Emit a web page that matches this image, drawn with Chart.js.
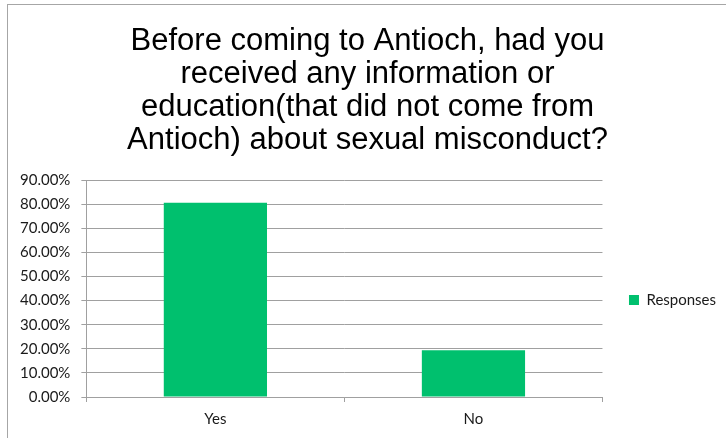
<!DOCTYPE html>
<html>
<head>
<meta charset="utf-8">
<script src="https://cdn.jsdelivr.net/npm/chart.js@4"></script>
<style>
  html, body { margin: 0; padding: 0; background: #fff; overflow: hidden; }
  body { width: 726px; height: 438px; position: relative; }
  #frame { position: absolute; left: 7px; top: 4px; width: 740px; height: 460px;
           border: 1px solid #a6a6a6; box-sizing: border-box; }
  #wrap { position: absolute; left: 9px; top: 5px; width: 717px; height: 433px; }
</style>
</head>
<body>
<div id="frame"></div>
<div id="wrap"><canvas id="c"></canvas></div>
<script>
const titleLines = ["Before coming to Antioch, had you", "received any information or", "education(that did not come from", "Antioch) about sexual misconduct?"];
const categories = ["Yes", "No"];
const seriesName = "Responses";
const responses = [80.6, 19.4];
const yMin = 0, yMax = 90, yStep = 10;

const gridColor = '#a0a0a0';
const barColor = '#00c06e';
const smallFont = 'Lato, "Open Sans", sans-serif';

new Chart(document.getElementById('c'), {
  type: 'bar',
  data: {
    labels: categories,
    datasets: [{
      label: seriesName,
      data: responses,
      backgroundColor: barColor,
      borderWidth: 0,
      categoryPercentage: 1,
      barPercentage: 0.4
    }]
  },
  options: {
    responsive: true,
    maintainAspectRatio: false,
    animation: false,
    devicePixelRatio: 1,
    layout: { padding: { left: 0, right: 0, top: 0, bottom: 2 } },
    plugins: {
      title: {
        display: true,
        text: titleLines,
        color: '#000',
        font: { family: '"Liberation Sans", Arial, sans-serif', size: 31, weight: 'normal', lineHeight: 1.065 },
        padding: { top: 20, bottom: 23 }
      },
      legend: {
        display: true,
        position: 'right',
        align: 'start',
        fullSize: false,
        title: { display: true, text: ' ', padding: { top: 62, bottom: 0 }, font: { size: 20, lineHeight: 1.2 } },
        labels: {
          boxWidth: 10, boxHeight: 10, padding: 26.5,
          color: '#1a1a1a',
          font: { family: smallFont, size: 15 }
        }
      },
      tooltip: { enabled: false }
    },
    scales: {
      x: {
        offset: true,
        grid: { offset: true, drawOnChartArea: false, tickLength: 5, color: gridColor, lineWidth: 1 },
        border: { color: gridColor, width: 1 },
        ticks: { color: '#1a1a1a', padding: 8, font: { family: smallFont, size: 15 } }
      },
      y: {
        min: yMin, max: yMax,
        grid: { color: gridColor, tickLength: 5, lineWidth: 1 },
        border: { color: gridColor, width: 1 },
        ticks: {
          stepSize: yStep,
          padding: 11,
          color: '#1a1a1a',
          font: { family: smallFont, size: 15 },
          callback: v => v.toFixed(2) + '%'
        }
      }
    }
  }
});
</script>
</body>
</html>
